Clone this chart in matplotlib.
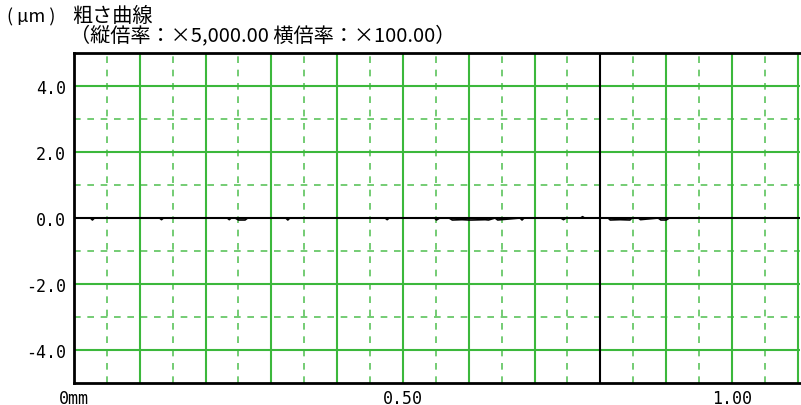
import matplotlib
matplotlib.use("Agg")
import matplotlib.pyplot as plt

plt.rcParams['font.family'] = ['Noto Sans CJK JP', 'DejaVu Sans']

# roughness profile (mm, um): flat, tiny dips below zero
prof_x = [0.000, 0.025, 0.028, 0.031, 0.130, 0.133, 0.136, 0.233, 0.236, 0.239,
          0.245, 0.250, 0.260, 0.264, 0.322, 0.325, 0.328, 0.473, 0.476, 0.479,
          0.548, 0.551, 0.556, 0.570, 0.575, 0.590, 0.600, 0.605, 0.625, 0.630,
          0.640, 0.644, 0.678, 0.681, 0.684, 0.740, 0.744, 0.748, 0.770, 0.773,
          0.776, 0.812, 0.815, 0.830, 0.845, 0.848, 0.858, 0.861, 0.888, 0.892,
          0.900, 0.905, 1.100]
prof_y = [0.000, 0.000, -0.060, 0.000, 0.000, -0.050, 0.000, 0.000, -0.050, 0.000,
          0.000, -0.060, -0.060, 0.000, 0.000, -0.060, 0.000, 0.000, -0.050, 0.000,
          0.000, -0.060, 0.000, 0.000, -0.060, -0.050, -0.060, -0.060, -0.050, -0.060,
          0.000, -0.060, 0.000, -0.060, 0.000, 0.000, -0.050, 0.000, 0.000, 0.040,
          0.000, 0.000, -0.060, -0.050, -0.060, 0.000, 0.000, -0.050, 0.000, -0.060,
          -0.060, 0.000, 0.000]

x_major = [0.1, 0.2, 0.3, 0.4, 0.5, 0.6, 0.7, 0.9, 1.0, 1.1]
x_minor = [0.05, 0.15, 0.25, 0.35, 0.45, 0.55, 0.65, 0.75, 0.85, 0.95, 1.05]
y_major = [-4, -2, 2, 4]
y_minor = [-3, -1, 1, 3]
y_ticks = [4.0, 2.0, 0.0, -2.0, -4.0]
y_labels = ["4.0", "2.0", "0.0", "-2.0", "-4.0"]
x_ticks = [0.0, 0.5, 1.0]
x_labels = ["0mm", "0.50", "1.00"]

green = "#3cb83c"
green_l = "#5cc45c"

fig = plt.figure(figsize=(8.01, 4.06), dpi=100)
ax = fig.add_axes([74/801, 1-384/406, 726/801, 330/406])
ax.set_xlim(0, 1.1035)
ax.set_ylim(-5, 5)

for v in x_minor:
    ax.axvline(v, color=green_l, lw=1.2, ls=(0, (4, 4)), zorder=1)
for v in y_minor:
    ax.axhline(v, color=green_l, lw=1.2, ls=(0, (4, 4)), zorder=1)
for v in x_major:
    ax.axvline(v, color=green, lw=1.5, zorder=2)
for v in y_major:
    ax.axhline(v, color=green, lw=1.5, zorder=2)
ax.axvline(0.8, color="black", lw=1.5, zorder=3)
ax.axhline(0, color="black", lw=1.5, zorder=3)

ax.plot(prof_x, prof_y, color="black", lw=1.2, zorder=4)

for s in ["left", "bottom", "top"]:
    ax.spines[s].set_linewidth(2)
    ax.spines[s].set_color("black")
ax.spines["right"].set_visible(False)

ax.set_yticks(y_ticks)
ax.set_yticklabels(y_labels, family="DejaVu Sans Mono", fontsize=12)
ax.set_xticks(x_ticks)
ax.set_xticklabels(x_labels, family="DejaVu Sans Mono", fontsize=12)
ax.tick_params(axis="y", length=0, pad=6)
ax.tick_params(axis="x", length=0, pad=4)

fig.text(7/801, 1-17/406, "( µm )", fontsize=13, va="center", ha="left")
fig.text(72/801, 1-16/406, "粗さ曲線", fontsize=14.5, va="center", ha="left")
fig.text(70/801, 1-36/406, "（縦倍率：×5,000.00 横倍率：×100.00）", fontsize=14.5,
         va="center", ha="left")

fig.savefig("out.png", dpi=100)
